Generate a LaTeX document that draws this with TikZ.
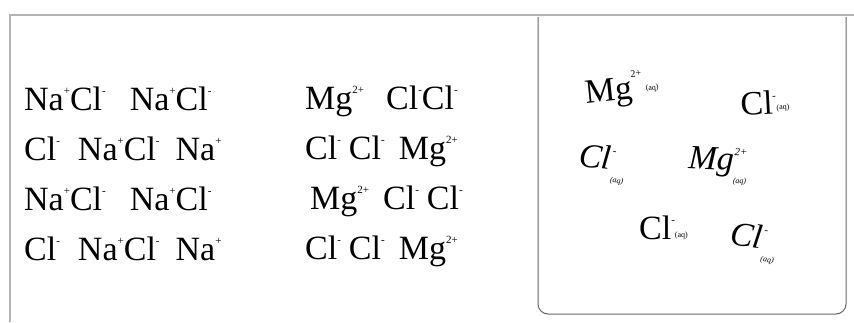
\documentclass[tikz,border=0pt]{standalone}
\usepackage{fontspec}
\setmainfont{Liberation Serif}
\newcommand{\ionsup}[1]{\raisebox{0.45em}{\fontsize{11}{11}\selectfont #1}}
\newcommand{\aqsub}[2][-0.2em]{\raisebox{#1}{\fontsize{8}{8}\selectfont #2}}
\newcommand{\supsub}[2]{\makebox[0pt][l]{\raisebox{0.45em}{\fontsize{11}{11}\selectfont #1}}\raisebox{-0.38em}{\fontsize{8}{8}\selectfont #2}}
\begin{document}
\begin{tikzpicture}[x=1pt,y=-1pt,
  ion/.style={anchor=base west, inner sep=0pt, font=\fontsize{34}{36}\selectfont},
  ition/.style={ion, font=\fontsize{34}{36}\selectfont\itshape},
  frame/.style={draw=black!30, line width=1.3pt},
  box/.style={draw=black!60, line width=1pt, rounded corners=10pt}]
\useasboundingbox (0,0) rectangle (854,322);
\draw[frame] (10,322) -- (10,15) -- (854,15);
\draw[box] (538,17) -- (538,314) -- (846,314) -- (846,17);
% left column
\node[ion] (l1) at (24,110) {Na\ionsup{+}Cl\ionsup{-}\hspace{24pt}Na\ionsup{+}Cl\ionsup{-}};
\node[ion] (l2) at (24,160) {Cl\ionsup{-}\hspace{18pt}Na\ionsup{+}Cl\ionsup{-}\hspace{16pt}Na\ionsup{+}};
\node[ion] (l3) at (24,210) {Na\ionsup{+}Cl\ionsup{-}\hspace{24pt}Na\ionsup{+}Cl\ionsup{-}};
\node[ion] (l4) at (24,260) {Cl\ionsup{-}\hspace{18pt}Na\ionsup{+}Cl\ionsup{-}\hspace{16pt}Na\ionsup{+}};
% middle column
\node[ion] (c1) at (305,109) {Mg\ionsup{2+}\hspace{22pt}Cl\ionsup{-}Cl\ionsup{-}};
\node[ion] (c2) at (305,159) {Cl\ionsup{-}\hspace{8pt}Cl\ionsup{-}\hspace{14pt}Mg\ionsup{2+}};
\node[ion] (c3) at (310,209) {Mg\ionsup{2+}\hspace{14pt}Cl\ionsup{-}\hspace{8pt}Cl\ionsup{-}};
\node[ion] (c4) at (305,259) {Cl\ionsup{-}\hspace{8pt}Cl\ionsup{-}\hspace{14pt}Mg\ionsup{2+}};
% solution box
\node[ion,rotate=6] (s1) at (586,104) {Mg\raisebox{0.65em}{\fontsize{10}{10}\selectfont 2+}\hspace{3pt}\aqsub[0.2em]{(aq)}};
\node[ion,rotate=3] (s2) at (741,116) {Cl\ionsup{-}\hspace{0pt}\aqsub[0.12em]{(aq)}};
\node[ition,rotate=-6] (s3) at (578,166) {Cl\hspace{1pt}\supsub{-}{(aq)}};
\node[ition,rotate=-3] (s4) at (688,168) {Mg\supsub{2+}{(aq)}};
\node[ion] (s5) at (639,239) {Cl\ionsup{-}\hspace{0pt}\aqsub[0.05em]{(aq)}};
\node[ition,rotate=-8] (s6) at (729,244) {Cl\hspace{1pt}\supsub{-}{(aq)}};
\end{tikzpicture}
\end{document}
